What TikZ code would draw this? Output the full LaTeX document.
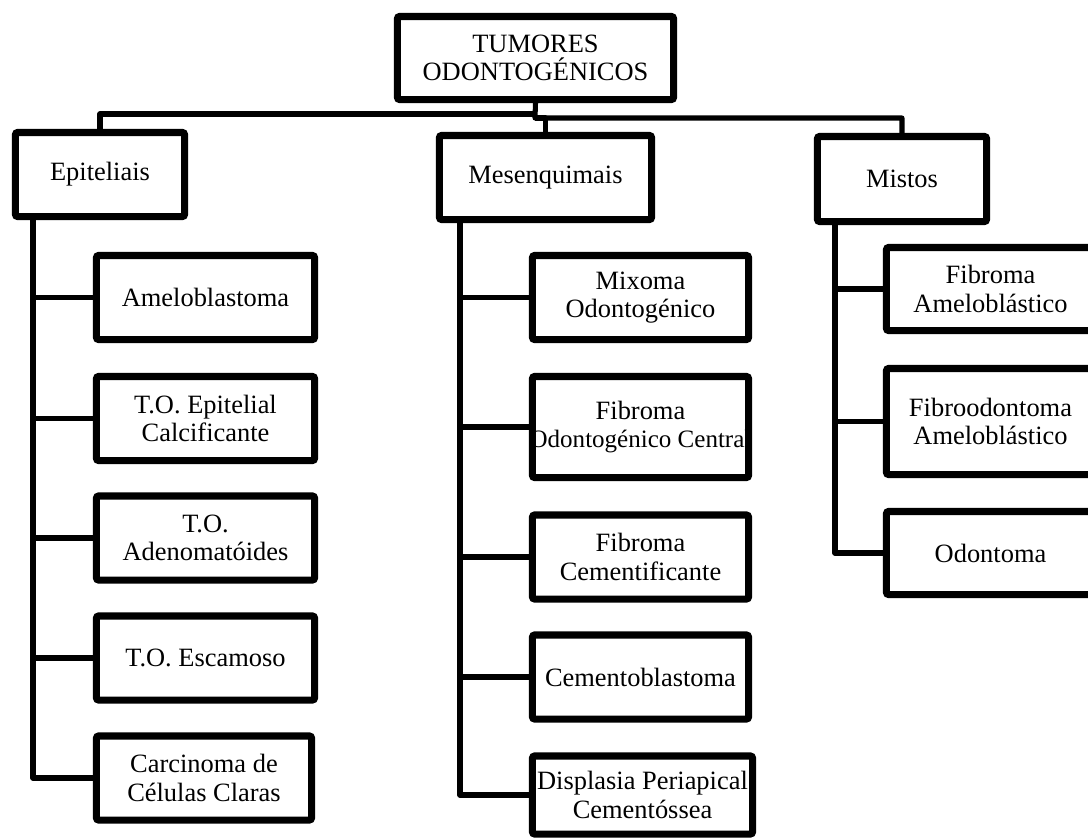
\documentclass[tikz,border=0pt]{standalone}
\usepackage{fontspec}
\setmainfont{Liberation Serif}
\begin{document}
\begin{tikzpicture}[x=0.025cm,y=-0.025cm]
\useasboundingbox (0,0) rectangle (1088,838);
\clip (0,0) rectangle (1088,838);
 \tikzstyle{box}=[draw=black,line width=5pt,rounded corners=1.5pt,fill=white,align=center,inner sep=0pt,font=\fontsize{18.8}{20}\selectfont]
 \tikzstyle{link}=[draw=black,line width=3.6pt,line join=round]
    \node (root)[box,minimum width=6.9cm,minimum height=2.075cm] at (535.5,58) {TUMORES\\ODONTOGÉNICOS};
    \node (epi)[box,minimum width=4.225cm,minimum height=2.1cm] at (100,174.5) {Epiteliais};
    \node (mes)[box,minimum width=5.3cm,minimum height=2.1cm] at (545.5,177.5) {Mesenquimais};
    \node (mis)[box,minimum width=4.225cm,minimum height=2.125cm] at (902,179) {Mistos};
% epiteliais
    \node (amel)[box,minimum width=5.45cm,minimum height=2.1cm] at (205.5,297.5) {Ameloblastoma};
    \node (calc)[box,minimum width=5.45cm,minimum height=2.1cm] at (205.5,418.5) {T.O. Epitelial\\Calcificante};
    \node (aden)[box,minimum width=5.45cm,minimum height=2.1cm] at (205.5,538) {T.O.\\Adenomatóides};
    \node (esca)[box,minimum width=5.45cm,minimum height=2.1cm] at (205.5,658) {T.O. Escamoso};
    \node (carc)[box,minimum width=5.375cm,minimum height=2.1cm] at (204,778) {Carcinoma de\\Células Claras};
% mesenquimais
    \node (mixo)[box,minimum width=5.4cm,minimum height=2.1cm] at (640.5,297.5) {Mixoma\\Odontogénico};
    \node (fcen)[box,minimum width=5.4cm,minimum height=2.525cm] at (640.5,427) {Fibroma\\\hbox to 0pt{\hss\fontsize{17.8}{20}\selectfont Odontogénico Central\hss}};
    \node (fcem)[box,minimum width=5.4cm,minimum height=2.1cm] at (640.5,557) {Fibroma\\Cementificante};
    \node (cemb)[box,minimum width=5.4cm,minimum height=2.1cm] at (640.5,677) {Cementoblastoma};
    \node (disp)[box,minimum width=5.5cm,minimum height=1.95cm] at (642.5,795) {Displasia Periapical\\Cementóssea};
% mistos
    \node (fame)[box,minimum width=5.2cm,minimum height=2.075cm] at (990.5,289) {Fibroma\\Ameloblástico};
    \node (fodo)[box,minimum width=5.2cm,minimum height=2.65cm] at (990.5,421.5) {Fibroodontoma\\Ameloblástico};
    \node (odon)[box,minimum width=5.2cm,minimum height=2.075cm] at (990.5,553) {Odontoma};
% bus
    \coordinate (busL) at (535,114);
    \coordinate (busR) at (535,118);
    \draw[link] (root.south) -- (busR) -| (mis.north);
    \draw[link] (busR) -| (mes.north);
    \draw[link] (busL) -| (epi.north);
% trunks
    \draw[link] (epi.south -| 33,0) |- (carc.west);
    \foreach \n in {amel,calc,aden,esca}
      \draw[link] (33,0 |- \n.west) -- (\n.west);
    \draw[link] (mes.south -| 460,0) |- (disp.west);
    \foreach \n in {mixo,fcen,fcem,cemb}
      \draw[link] (460,0 |- \n.west) -- (\n.west);
    \draw[link] (mis.south -| 835,0) |- (odon.west);
    \foreach \n in {fame,fodo}
      \draw[link] (835,0 |- \n.west) -- (\n.west);
\end{tikzpicture}
\end{document}
